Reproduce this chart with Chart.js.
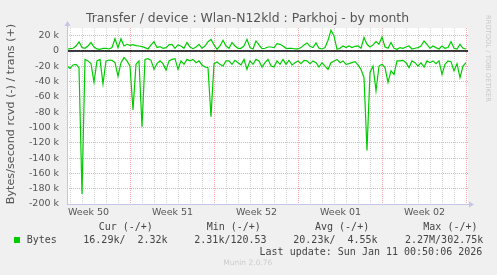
<!DOCTYPE html>
<html>
<head>
<meta charset="utf-8">
<script src="https://cdn.jsdelivr.net/npm/chart.js@4/dist/chart.umd.min.js"></script>
<style>
  html, body { margin: 0; padding: 0; background: #f0f0f0; }
  #wrap { width: 497px; height: 275px; position: relative; }
</style>
</head>
<body>
<div id="wrap"><canvas id="c" width="497" height="275"></canvas></div>
<script>
// ---- data (values in k bytes/second) ----
const weekLabels = ['Week 50', 'Week 51', 'Week 52', 'Week 01', 'Week 02'];
const weekCenterHours = [-84, 84, 252, 420, 588];   // hours relative to Sun Dec 14 00:00
const sampleStartHour = -127.2;
const sampleStepHours = 6;

const transK = [
  2.2, 3, 3.5, 6.5, 11.8, 4.4, 3.5, 6.5, 11, 5.2,
  2.6, 2.2, 3.5, 3.5, 2.6, 4.4, 16, 4.4, 16, 6.5,
  8.7, 7.4, 8.3, 7, 6.5, 5.7, 4.4, 2.6, 7.9, 12,
  4.4, 5.7, 3.5, 4.4, 7.9, 8.7, 3.5, 7.9, 6.5, 3.5,
  11, 5.2, 3, 5.2, 8.7,
  3.5, 6.5, 12, 15, 7.9, 2.2, 6.5, 14, 6.5, 3.5,
  11, 6.5, 3.5, 3.5, 6.5, 15.3, 4.4, 2.6, 13, 7.9,
  3, 3.5, 5.2, 5.2, 4.4, 9.6, 8.7, 6.5, 3.5, 3.5,
  3.5, 2.6, 2.6, 4.4, 7.9, 10.5, 6.1, 4.4, 10.5, 3.5,
  2.6, 4.4, 14, 27,
  19.6, 2.2, 3.5, 6.5, 4.4, 6.5, 4.4, 6.1, 6.5, 3.5,
  17.5, 8.7, 5.2, 7.9, 12.2, 8.7, 18.3, 5.2, 3.5, 11,
  3.5, 2.2, 4.4, 3.5, 5.2, 6.5, 2.6, 3.5, 4.4, 6.5,
  13, 8.7, 3.5, 6.5, 4.4, 2.6, 6.5, 3.5, 4.4, 12.2,
  3.5, 2.6, 8.7, 3.5, 2.6
];

const rcvdK = [
  -19.7, -22.7, -18.3, -17.5, -21.8, -187, -11, -13, -16.6, -41,
  -13, -11, -43, -13, -11.8, -12.2, -15.3, -33, -15.3, -8.7,
  -13, -20, -77, -17.5, -13, -99, -11, -10, -12.2, -24,
  -16.6, -13, -16.6, -25, -13, -11, -10, -24, -13, -17.5,
  -11, -13, -11, -15.3, -13,
  -18.3, -21, -21.8, -86, -16.6, -14.4, -17.5, -19.7, -13, -13,
  -17.5, -12.2, -15.3, -18.3, -11, -24, -13, -17.5, -11, -13,
  -21, -15.3, -11, -19.7, -21, -13, -17.5, -11, -17.5, -12.2,
  -18.3, -15.3, -13, -16.6, -12.2, -13, -16.6, -13, -15.3, -21,
  -15.3, -19.7, -24, -15.3,
  -13, -11, -15.3, -13, -17.5, -16.6, -15.3, -14, -18.3, -24,
  -35, -130, -28, -19.7, -52, -19.7, -17.5, -21.8, -41, -26,
  -30.6, -13, -13, -12.2, -15.3, -21.8, -13, -15.3, -19.7, -15.3,
  -21, -13, -15.3, -13, -16.6, -13, -30.6, -17.5, -13, -14,
  -26, -16.6, -35, -19.7, -15.3
];

const legendHeaders = ['Cur (-/+)', 'Min (-/+)', 'Avg (-/+)', 'Max (-/+)'];
const legendSeries = 'Bytes';
const legendValues = ['16.29k/  2.32k', '2.31k/120.53', '20.23k/  4.55k', '2.27M/302.75k'];
const lastUpdate = 'Last update: Sun Jan 11 00:50:06 2026';
const titleText = 'Transfer / device : Wlan-N12kld : Parkhoj - by month';
const yTitle = 'Bytes/second rcvd (-) / trans (+)';
const watermark = 'RRDTOOL / TOBI OETIKER';
const footer = 'Munin 2.0.76';

// ---- chart ----
const toPoints = arr => arr.map((v, i) => ({ x: sampleStartHour + i * sampleStepHours, y: v }));
const GREEN = '#00cc00';
const MAJOR = '#f2aaaa';
const MINOR = '#d6d6d6';
const AXIS = '#c4c4e6';

const decorPlugin = {
  id: 'decor',
  beforeDraw(chart) {
    const { ctx, chartArea: a } = chart;
    ctx.save();
    ctx.fillStyle = '#f0f0f0';
    ctx.fillRect(0, 0, chart.width, chart.height);
    ctx.fillStyle = '#ffffff';
    ctx.fillRect(a.left, a.top, a.right - a.left, a.bottom - a.top);
    ctx.restore();
  },
  afterDatasetsDraw(chart) {
    const { ctx, chartArea: a, scales } = chart;
    ctx.save();
    // zero line
    const y0 = scales.y.getPixelForValue(0);
    ctx.strokeStyle = '#000';
    ctx.lineWidth = 1.6;
    ctx.beginPath(); ctx.moveTo(a.left, y0); ctx.lineTo(a.right, y0); ctx.stroke();
    // axes
    ctx.lineWidth = 1;
    ctx.strokeStyle = AXIS;
    ctx.fillStyle = AXIS;
    const lx = a.left + 0.5, by = Math.round(a.bottom) + 0.5;
    ctx.beginPath(); ctx.moveTo(lx, by); ctx.lineTo(lx, a.top - 3); ctx.stroke();
    ctx.beginPath(); ctx.moveTo(a.left, by); ctx.lineTo(a.right + 2, by); ctx.stroke();
    ctx.beginPath(); ctx.moveTo(lx - 3, a.top - 2); ctx.lineTo(lx + 3, a.top - 2); ctx.lineTo(lx, a.top - 7); ctx.closePath(); ctx.fill();
    ctx.beginPath(); ctx.moveTo(a.right + 1, by - 3); ctx.lineTo(a.right + 1, by + 3); ctx.lineTo(a.right + 6, by); ctx.closePath(); ctx.fill();

    // title
    ctx.fillStyle = '#555';
    ctx.textBaseline = 'middle';
    ctx.textAlign = 'center';
    ctx.font = '12.4px "DejaVu Sans"';
    ctx.fillText(titleText, 247.5, 19);

    // y title
    ctx.save();
    ctx.translate(11, 114);
    ctx.rotate(-Math.PI / 2);
    ctx.font = '11.2px "DejaVu Sans"';
    ctx.fillText(yTitle, 0, 0);
    ctx.restore();

    // watermark
    ctx.save();
    ctx.translate(487.5, 15);
    ctx.rotate(Math.PI / 2);
    ctx.textAlign = 'left';
    ctx.fillStyle = '#c8c8c8';
    ctx.font = '6.75px "DejaVu Sans"';
    ctx.fillText(watermark, 0, 0);
    ctx.restore();

    // legend
    ctx.textAlign = 'left';
    ctx.fillStyle = '#444';
    ctx.font = '10px "DejaVu Sans Mono"';
    const headX = [98.7, 206.7, 315, 423.3];
    legendHeaders.forEach((t, i) => ctx.fillText(t, headX[i], 227));
    ctx.fillStyle = GREEN;
    ctx.fillRect(14, 237, 6, 6);
    ctx.fillStyle = '#444';
    ctx.fillText(legendSeries, 26.7, 240);
    const valX = [83.3, 194.3, 293.3, 405];
    legendValues.forEach((t, i) => ctx.fillText(t, valX[i], 240));
    ctx.textAlign = 'right';
    ctx.fillText(lastUpdate, 482.3, 252);

    ctx.textAlign = 'left';
    ctx.fillStyle = '#cccccc';
    ctx.font = '7.5px "DejaVu Sans"';
    ctx.fillText(footer, 223.3, 263.5);
    ctx.restore();
  }
};

new Chart(document.getElementById('c'), {
  type: 'line',
  data: {
    datasets: [
      { label: 'rcvd', data: toPoints(rcvdK), borderColor: GREEN, borderWidth: 1.2, pointRadius: 0, tension: 0, fill: false },
      { label: 'trans', data: toPoints(transK), borderColor: GREEN, borderWidth: 1.2, pointRadius: 0, tension: 0, fill: false }
    ]
  },
  options: {
    responsive: false,
    animation: false,
    events: [],
    layout: { padding: { left: 0, top: 28, right: 29, bottom: 51 } },
    plugins: { legend: { display: false }, title: { display: false }, tooltip: { enabled: false } },
    scales: {
      x: {
        type: 'linear',
        min: sampleStartHour,
        max: sampleStartHour + 802,
        afterBuildTicks(scale) {
          const t = [];
          for (let h = -120; h <= 672; h += 12) t.push({ value: h });
          scale.ticks = t;
        },
        afterFit(scale) { scale.height = 20; },
        border: { display: false, dash: [1, 1] },
        grid: {
          drawTicks: false,
          lineWidth: 1,
          color(c) {
            const v = c.tick && c.tick.value;
            if (v === undefined || v % 24 !== 0) return 'rgba(0,0,0,0)';
            return v % 168 === 0 ? MAJOR : MINOR;
          }
        },
        ticks: {
          autoSkip: false,
          maxRotation: 0,
          padding: 3,
          color: '#555',
          font: { family: 'DejaVu Sans', size: 9.5 },
          callback(v) {
            const k = weekCenterHours.indexOf(v);
            return k >= 0 ? weekLabels[k] : '';
          }
        }
      },
      y: {
        min: -200,
        max: 30,
        afterFit(scale) { scale.width = 67; },
        border: { display: false, dash: [1, 1] },
        grid: {
          drawTicks: false,
          lineWidth: 1,
          color(c) {
            const v = c.tick && c.tick.value;
            return v % 20 === 0 ? MAJOR : MINOR;
          }
        },
        ticks: {
          stepSize: 10,
          padding: 8,
          color: '#555',
          font: { family: 'DejaVu Sans', size: 9.5 },
          callback(v) {
            if (v % 20 !== 0) return '';
            return v === 0 ? '0' : v + ' k';
          }
        }
      }
    }
  },
  plugins: [decorPlugin]
});
</script>
</body>
</html>
